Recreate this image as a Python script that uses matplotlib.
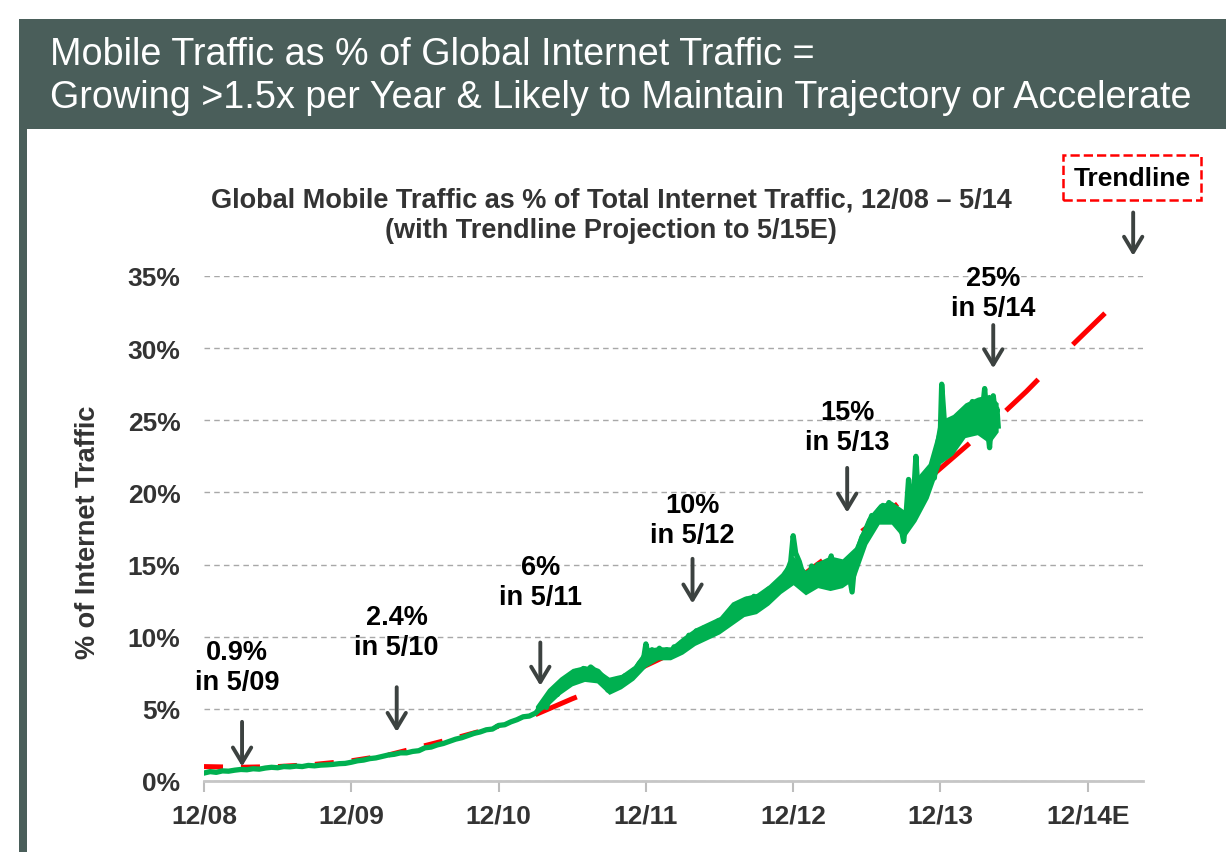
import numpy as np
import matplotlib
matplotlib.use('Agg')
import matplotlib.pyplot as plt
from matplotlib.patches import Rectangle

plt.rcParams['font.family'] = ['Liberation Sans', 'DejaVu Sans']

W, H = 1226, 853
HEAD = '#4a5e5a'
DARK = '#333333'
ARROW = '#3c4240'
GREEN = '#00b050'

#---------data: months since 12/08, mobile share of traffic (%)----------
month = [0, 0.5, 1, 1.5, 2, 2.5, 3, 3.5, 4, 4.5, 5, 5.5, 6, 6.5, 7, 7.5, 8, 8.5, 9, 9.5,
         10, 10.5, 11, 11.5, 12, 12.5, 13, 13.5, 14, 14.5, 15, 15.5, 16, 16.5, 17, 17.5,
         18, 18.5, 19, 19.5, 20, 20.5, 21, 21.5, 22, 22.5, 23, 23.5, 24, 24.5, 25, 25.5,
         26, 26.5, 27, 27.3, 27.6, 27.9, 28.2, 28.5, 28.8, 29.1, 29.4, 29.7, 30.0, 30.3,
         30.6, 30.9, 31.2, 31.5, 31.8, 32.1, 32.4, 32.7, 32.9, 33.1, 33.4, 33.7, 34.0,
         34.3, 34.6, 34.9, 35.2, 35.5, 35.8, 36.0, 36.2, 36.5, 36.8, 37.1, 37.4, 37.7,
         38.0, 38.3, 38.6, 38.9, 39.2, 39.5, 39.8, 40.1, 40.4, 40.7, 41.0, 41.3, 41.6,
         41.9, 42.2, 42.5, 42.8, 43.0, 43.3, 43.6, 43.9, 44.2, 44.5, 44.8, 45.1, 45.4,
         45.7, 46.0, 46.3, 46.6, 46.9, 47.2, 47.5, 47.8, 48.0, 48.2, 48.5, 48.7, 48.9,
         49.1, 49.3, 49.5, 49.8, 50.0, 50.3, 50.6, 50.9, 51.1, 51.4, 51.7, 52.0, 52.3,
         52.5, 52.8, 53.0, 53.3, 53.6, 53.9, 54.1, 54.4, 54.7, 55.0, 55.3, 55.6, 55.8,
         56.1, 56.3, 56.6, 56.8, 57.0, 57.2, 57.4, 57.6, 57.8, 58.0, 58.2, 58.4, 58.6,
         58.8, 59.0, 59.3, 59.5, 59.8, 60.0, 60.1, 60.3, 60.5, 60.7, 60.9, 61.1, 61.3,
         61.5, 61.7, 62.0, 62.2, 62.4, 62.6, 62.8, 63.0, 63.2, 63.4, 63.6, 63.8, 63.9,
         64.0, 64.2, 64.3, 64.5, 64.6, 64.7]
share = [0.55, 0.65, 0.6, 0.7, 0.68, 0.75, 0.8, 0.78, 0.85, 0.82, 0.9, 0.95, 0.92, 1.0,
         0.98, 1.03, 1.0, 1.08, 1.05, 1.1, 1.12, 1.15, 1.2, 1.22, 1.3, 1.4, 1.45, 1.55,
         1.6, 1.7, 1.8, 1.85, 1.95, 1.95, 2.05, 2.1, 2.3, 2.35, 2.5, 2.6, 2.75, 2.9, 3.0,
         3.15, 3.3, 3.4, 3.55, 3.6, 3.85, 3.9, 4.1, 4.25, 4.45, 4.5, 4.7, 4.95, 5.3, 5.1,
         5.9, 6.2, 6.0, 6.8, 7.0, 6.7, 7.4, 7.6, 7.3, 7.8, 7.6, 7.9, 7.7, 7.6, 7.3, 7.0,
         6.3, 6.9, 6.6, 7.1, 6.9, 7.3, 7.1, 7.6, 7.8, 8.2, 8.4, 9.5, 8.7, 9.1, 8.8, 9.2,
         8.9, 9.1, 8.8, 9.3, 9.1, 9.6, 9.4, 10.1, 9.8, 10.4, 10.1, 10.6, 10.3, 10.8, 10.6,
         11.1, 10.8, 11.4, 11.2, 12.0, 11.6, 12.3, 11.9, 12.6, 12.2, 12.8, 12.3, 12.9,
         12.6, 13.3, 13.0, 13.6, 13.3, 14.1, 14.5, 15.2, 17.0, 15.8, 15.2, 14.6, 13.3,
         14.2, 13.6, 14.9, 14.3, 15.0, 14.2, 14.8, 14.4, 15.6, 13.5, 14.9, 14.3, 15.2,
         14.6, 13.1, 15.0, 16.1, 16.9, 17.3, 17.7, 18.4, 18.1, 18.8, 19.1, 18.8, 19.3,
         18.9, 18.2, 17.8, 17.5, 16.6, 18.5, 20.9, 18.8, 19.6, 22.5, 19.5, 20.2, 19.8,
         20.9, 20.4, 21.6, 21.0, 23.5, 24.5, 27.5, 25.1, 24.0, 23.5, 22.8, 23.8, 24.6,
         24.0, 25.1, 25.3, 24.5, 25.8, 26.3, 25.2, 24.9, 26.0, 25.5, 27.2, 25.0, 23.9,
         23.1, 25.5, 26.7, 25.2, 25.8, 24.6]

# daily noise band (low / high of the daily values) once it gets volatile
band_month = [27, 28, 29, 30, 31, 32, 33, 34, 35, 36, 37, 38, 39, 40, 41, 42, 43, 44,
              45, 46, 47, 48, 49, 50, 51, 52, 53, 54, 55, 56, 57, 58, 59, 60, 61, 62,
              63, 64, 64.7]
band_lo = [4.6, 5.2, 6.0, 6.6, 6.9, 6.8, 6.0, 6.4, 7.0, 7.9, 8.4, 8.4, 8.8, 9.4, 9.8,
           10.2, 10.8, 11.4, 11.6, 12.2, 13.0, 13.6, 12.9, 13.4, 13.2, 13.4, 14.0, 16.4,
           17.8, 17.8, 16.8, 18.0, 19.6, 22.0, 22.6, 23.8, 24.0, 23.4, 24.2]
band_hi = [5.2, 6.4, 7.2, 7.8, 8.0, 7.8, 7.2, 7.4, 8.0, 9.2, 9.3, 9.3, 10.0, 10.6, 11.0,
           11.4, 12.4, 12.8, 13.0, 13.6, 14.4, 15.6, 14.6, 15.2, 15.6, 15.4, 16.2, 18.2,
           19.2, 19.4, 18.8, 21.0, 22.0, 25.0, 25.4, 26.2, 26.6, 26.8, 26.2]

trend_month = [0, 3, 6, 9, 12, 15, 18, 21, 24, 27, 30, 33, 36, 40, 43, 46, 49, 52, 55,
               58, 61, 64, 67, 70, 73.5]
trend_share = [1.0, 0.95, 1.0, 1.15, 1.4, 1.8, 2.45, 3.1, 3.8, 4.6, 5.7, 6.7, 8.0, 9.6,
               11.1, 12.9, 14.4, 16.3, 18.2, 20.2, 22.4, 24.6, 27.0, 29.6, 32.5]

x_ticks = [0, 12, 24, 36, 48, 60, 72]
x_labels = ['12/08', '12/09', '12/10', '12/11', '12/12', '12/13', '12/14E']
y_ticks = [0, 5, 10, 15, 20, 25, 30, 35]

callout_txt = ['0.9%\nin 5/09', '2.4%\nin 5/10', '6%\nin 5/11', '10%\nin 5/12',
               '15%\nin 5/13', '25%\nin 5/14']
callout_x = [2.7, 15.7, 27.4, 39.8, 52.4, 64.3]
callout_y = [7.9, 10.3, 13.8, 18.1, 24.5, 33.8]
arrow_x = [3.1, 15.7, 27.4, 39.8, 52.4, 64.3]
arrow_top = [4.1, 6.5, 9.6, 15.4, 21.7, 31.6]
arrow_bot = [1.0, 3.4, 6.6, 12.3, 18.6, 28.6]

#---------figure + header band----------
fig = plt.figure(figsize=(W / 100, H / 100), dpi=100)
fig.add_artist(Rectangle((19 / W, 1 - 130 / H), 1 - 19 / W, 110 / H,
                         transform=fig.transFigure, color=HEAD, lw=0))
fig.add_artist(Rectangle((19 / W, 0), 8 / W, 1 - 130 / H,
                         transform=fig.transFigure, color=HEAD, lw=0))
fig.text(50 / W, 1 - 65 / H, 'Mobile Traffic as % of Global Internet Traffic =',
         color='white', fontsize=27.2, va='baseline')
fig.text(50 / W, 1 - 108 / H,
         'Growing >1.5x per Year & Likely to Maintain Trajectory or Accelerate',
         color='white', fontsize=27.2, va='baseline')

fig.text(611 / W, 1 - 207 / H,
         'Global Mobile Traffic as % of Total Internet Traffic, 12/08 \u2013 5/14',
         color=DARK, fontsize=19.5, fontweight='bold', ha='center', va='baseline')
fig.text(611 / W, 1 - 238 / H, '(with Trendline Projection to 5/15E)',
         color=DARK, fontsize=19.5, fontweight='bold', ha='center', va='baseline')

fig.text(88 / W, 1 - 532 / H, '% of Internet Traffic', rotation=90, color=DARK,
         fontsize=19.5, fontweight='bold', ha='center', va='center')

#---------plot area----------
ax = fig.add_axes([204 / W, 1 - 782 / H, 939 / W, (782 - 277) / H])
ax.set_xlim(0, 76.5)
ax.set_ylim(0, 35)

# trendline under the data, short dashes early, long dashes later
ax.plot(trend_month[:9], trend_share[:9], color='#ff0000', lw=3.6,
        dashes=(3.8, 3.6), zorder=2)
ax.plot(trend_month[9:], trend_share[9:], color='#ff0000', lw=3.6,
        dashes=(9.0, 9.8), zorder=2)
ax.fill_between(band_month, band_lo, band_hi, color=GREEN, lw=0, zorder=3)
ax.plot(month, share, color=GREEN, lw=3.8, zorder=3, solid_joinstyle='round')

for s in ['left', 'top', 'right']:
    ax.spines[s].set_visible(False)
ax.spines['bottom'].set_color('#c6c6c6')
ax.spines['bottom'].set_linewidth(2)

ax.set_xticks(x_ticks)
ax.set_xticklabels(x_labels)
ax.set_yticks(y_ticks)
ax.set_yticklabels([str(v) + '%' for v in y_ticks])
ax.tick_params(axis='x', length=8, width=1.5, color='#bdbdbd', pad=8,
               labelsize=19, labelcolor=DARK)
ax.tick_params(axis='y', length=0, pad=17, labelsize=19, labelcolor=DARK)
for lb in ax.get_xticklabels() + ax.get_yticklabels():
    lb.set_fontweight('bold')
ax.yaxis.grid(True, linestyle=(0, (4, 3)), color='#a8a8a8', lw=1)
ax.set_axisbelow(True)

for i in range(len(callout_txt)):
    ax.text(callout_x[i], callout_y[i], callout_txt[i], ha='center', va='center',
            fontsize=19.5, fontweight='bold', color='black', linespacing=1.2,
            clip_on=False)
    ax.annotate('', xy=(arrow_x[i], arrow_bot[i]), xytext=(arrow_x[i], arrow_top[i]),
                arrowprops=dict(arrowstyle='->,head_length=0.55,head_width=0.33',
                                color=ARROW, lw=2.8, shrinkA=0, shrinkB=0,
                                mutation_scale=20),
                annotation_clip=False)

ax.text(75.6, 41.8, 'Trendline', ha='center', va='center', fontsize=19,
        fontweight='bold', color='black', clip_on=False,
        bbox=dict(boxstyle='square,pad=0.4', fc='white', ec='#ff0000', ls='--', lw=1.8))
ax.annotate('', xy=(75.7, 36.4), xytext=(75.7, 39.4),
            arrowprops=dict(arrowstyle='->,head_length=0.55,head_width=0.33',
                            color=ARROW, lw=2.8, shrinkA=0, shrinkB=0,
                            mutation_scale=20),
            annotation_clip=False)

fig.savefig('out.png', dpi=100)
